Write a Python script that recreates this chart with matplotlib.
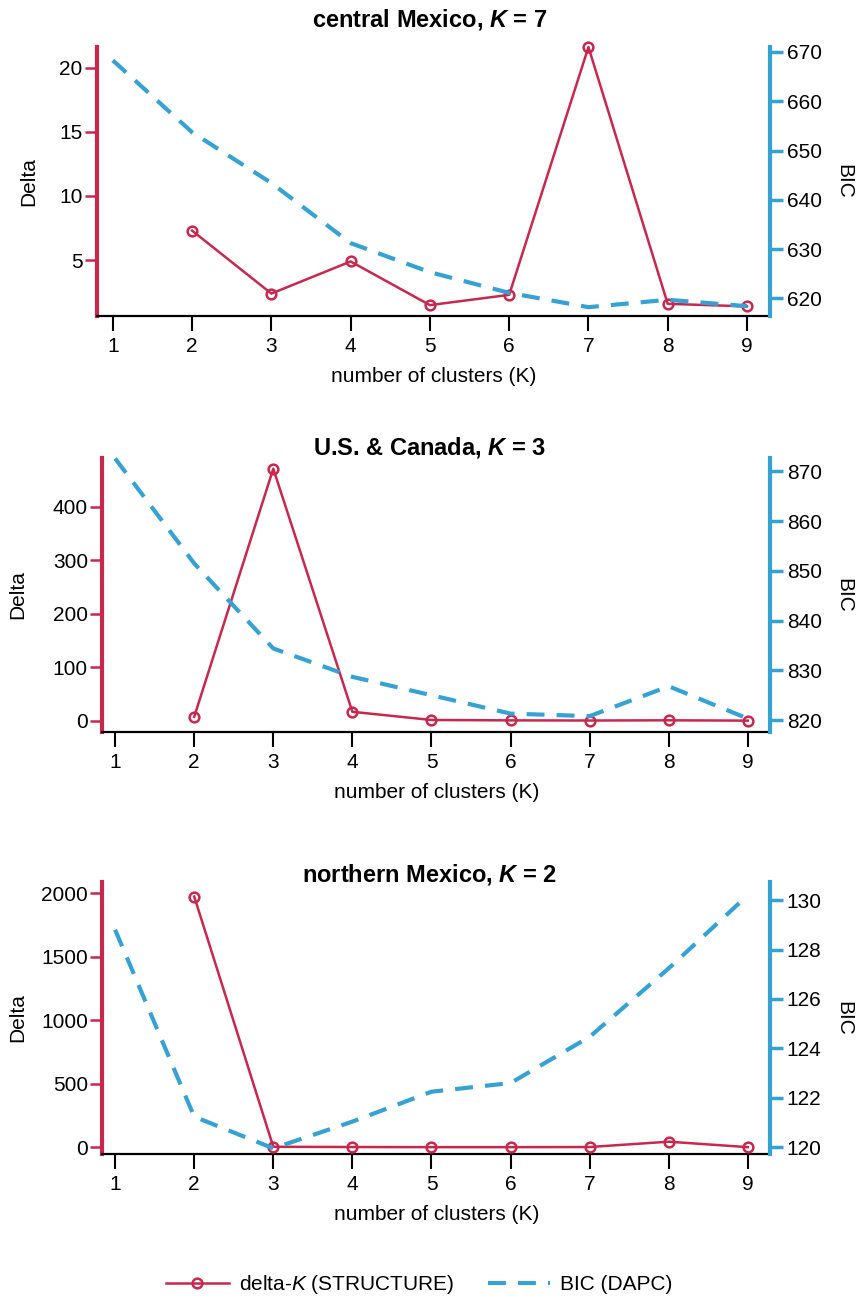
import numpy as np
import matplotlib
matplotlib.use("Agg")
import matplotlib.pyplot as plt
from matplotlib.lines import Line2D

plt.rcParams['font.family'] = ['Liberation Sans', 'DejaVu Sans']
plt.rcParams['mathtext.fontset'] = 'custom'
plt.rcParams['mathtext.rm'] = 'Liberation Sans'
plt.rcParams['mathtext.it'] = 'Liberation Sans:italic'
plt.rcParams['mathtext.bf'] = 'Liberation Sans:bold'
plt.rcParams['mathtext.bfit'] = 'Liberation Sans:bold:italic'

# data
K = [1, 2, 3, 4, 5, 6, 7, 8, 9]

titles = [r"central Mexico, $\mathbfit{K}$ = 7",
          r"U.S. & Canada, $\mathbfit{K}$ = 3",
          r"northern Mexico, $\mathbfit{K}$ = 2"]

delta_central = [np.nan, 7.3, 2.4, 4.9, 1.5, 2.3, 21.6, 1.6, 1.4]
bic_central = [668.3, 653.7, 643.4, 631.2, 625.3, 621.1, 618.2, 619.7, 618.4]

delta_uscan = [np.nan, 7.5, 471, 16.8, 1.5, 0.8, 0.5, 0.9, 0.3]
bic_uscan = [872.6, 851.5, 834.4, 828.7, 825.0, 821.3, 820.8, 826.8, 820.3]

delta_north = [np.nan, 1975, 4, 2, 1, 1, 2, 44, 1]
bic_north = [128.8, 121.24, 119.96, 121.04, 122.25, 122.6, 124.47, 127.24, 130.2]

delta_ticks = [[5, 10, 15, 20], [0, 100, 200, 300, 400], [0, 500, 1000, 1500, 2000]]
bic_ticks = [[620, 630, 640, 650, 660, 670], [820, 830, 840, 850, 860, 870],
             [120, 122, 124, 126, 128, 130]]

RED = '#c8284e'
BLUE = '#35a2d3'

# layout: [left, bottom, width, height], limits
panels = [
    dict(rect=[0.1133, 0.7569, 0.7862, 0.2069], xlim=(0.80, 9.29),
         ylim=(0.65, 21.6), ylim2=(616.4, 671.0), title_y=0.985,
         ylab_x=-0.088, delta=delta_central, bic=bic_central),
    dict(rect=[0.1197, 0.4369, 0.7798, 0.2108], xlim=(0.84, 9.28),
         ylim=(-21, 491), ylim2=(817.6, 872.7), title_y=0.656,
         ylab_x=-0.112, delta=delta_uscan, bic=bic_uscan),
    dict(rect=[0.1197, 0.1123, 0.7798, 0.2092], xlim=(0.84, 9.28),
         ylim=(-53, 2089), ylim2=(119.73, 130.73), title_y=0.327,
         ylab_x=-0.112, delta=delta_north, bic=bic_north),
]

fig = plt.figure(figsize=(8.56, 13), dpi=100)

for i, p in enumerate(panels):
    ax = fig.add_axes(p['rect'])
    ax2 = ax.twinx()

    ax.plot(K, p['delta'], color=RED, lw=1.8, marker='o', ms=7,
            mfc='none', mec=RED, mew=1.8, clip_on=False, zorder=3)
    ax2.plot(K, p['bic'], color=BLUE, lw=3, dashes=(4.3, 2.9),
             clip_on=False, zorder=2)

    ax.set_xlim(*p['xlim'])
    ax.set_ylim(*p['ylim'])
    ax2.set_ylim(*p['ylim2'])
    ax.set_xticks(K)
    ax.set_yticks(delta_ticks[i])
    ax2.set_yticks(bic_ticks[i])

    for s in ['top', 'right']:
        ax.spines[s].set_visible(False)
    for s in ['top', 'left', 'bottom']:
        ax2.spines[s].set_visible(False)
    ax.spines['left'].set_color(RED)
    ax.spines['left'].set_linewidth(3)
    ax.spines['bottom'].set_linewidth(1.6)
    ax2.spines['right'].set_color(BLUE)
    ax2.spines['right'].set_linewidth(3)

    ax.tick_params(axis='x', length=11, width=1.5, pad=4, labelsize=15)
    ax.tick_params(axis='y', length=8.5, width=1.8, color=RED, pad=2,
                   labelsize=15)
    ax2.tick_params(axis='y', length=9, width=2.5, color=BLUE, pad=3,
                    labelsize=15)

    ax.set_xlabel("number of clusters (K)", fontsize=15, labelpad=8)
    ax.set_ylabel("Delta", fontsize=15)
    ax.yaxis.set_label_coords(p['ylab_x'], 0.5)
    ax2.set_ylabel("BIC", fontsize=15, rotation=270, va='center')
    ax2.yaxis.set_label_coords(1.11, 0.5)

    fig.text(0.502, p['title_y'], titles[i], ha='center', va='center',
             fontsize=17, fontweight='bold')

handles = [
    Line2D([], [], color=RED, lw=1.8, marker='o', ms=7, mfc='none', mew=1.8),
    Line2D([], [], color=BLUE, lw=3, dashes=(4.3, 2.9)),
]
labels = [r"delta-$\mathit{K}$ (STRUCTURE)", "BIC (DAPC)"]
fig.legend(handles, labels, loc='center', bbox_to_anchor=(0.49, 0.012),
           ncol=2, frameon=False, fontsize=15, handlelength=3.0,
           handletextpad=0.5, columnspacing=1.6)

fig.savefig("out.png", dpi=100)
